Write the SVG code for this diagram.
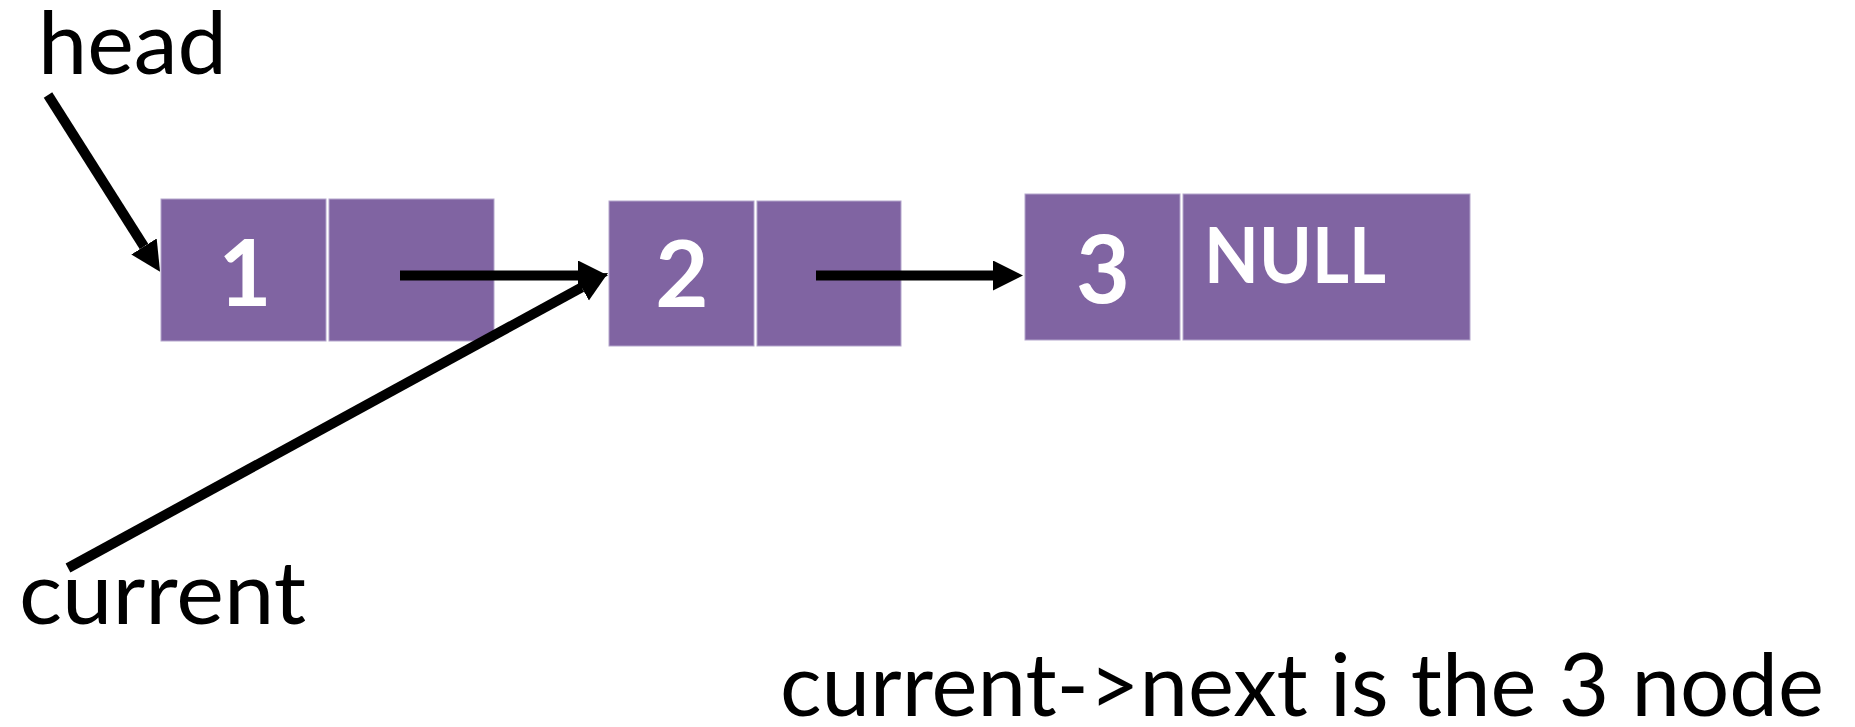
<svg xmlns="http://www.w3.org/2000/svg" width="1855" height="727" viewBox="0 0 1855 727">
<style>
.cell{fill:#8064A2;stroke:#B3A5CC;stroke-width:1}
.val{font-family:Lato,"Open Sans",sans-serif;font-weight:bold;fill:#FFFFFF;text-anchor:middle}
.lbl{font-family:Lato,"Open Sans",sans-serif;font-size:88px;fill:#000000}
.conn{stroke:#000000;stroke-width:10;fill:none;marker-end:url(#ah)}
</style>
<defs>
<marker id="ah" markerUnits="userSpaceOnUse" markerWidth="32" markerHeight="32" refX="0" refY="15" orient="auto">
<path d="M0,0 L30,15 L0,30 z" fill="#000000"/>
</marker>
</defs>
<rect width="1855" height="727" fill="#FFFFFF"/>
<g id="node1">
<rect class="cell" x="161" y="199" width="165" height="142"/>
<rect class="cell" x="329" y="199" width="165" height="142"/>
<text class="val" x="245" y="306" font-size="92">1</text>
</g>
<g id="node2">
<rect class="cell" x="609" y="201" width="145" height="145"/>
<rect class="cell" x="757" y="201" width="144" height="145"/>
<text class="val" x="682" y="307" font-size="92">2</text>
</g>
<g id="node3">
<rect class="cell" x="1025" y="194" width="155" height="146"/>
<rect class="cell" x="1183" y="194" width="287" height="146"/>
<text class="val" x="1103" y="303" font-size="93">3</text>
<text class="val" x="1295" y="283" font-size="77" textLength="182" lengthAdjust="spacingAndGlyphs">NULL</text>
</g>
<g id="label-head">
<text class="lbl" x="38" y="74" textLength="189" lengthAdjust="spacingAndGlyphs">head</text>
</g>
<g id="label-current">
<text class="lbl" x="19" y="624" textLength="287" lengthAdjust="spacingAndGlyphs">current</text>
</g>
<g id="caption">
<text class="lbl" x="780" y="716" textLength="1044" lengthAdjust="spacingAndGlyphs">current-&gt;next is the 3 node</text>
</g>
<g id="connectors">
<line class="conn" x1="48" y1="95" x2="144" y2="246.5"/>
<line class="conn" x1="400" y1="275.5" x2="578" y2="275.5"/>
<line class="conn" x1="816" y1="275.5" x2="993" y2="275.5"/>
<line class="conn" x1="68" y1="568" x2="581.7" y2="287.4"/>
</g>
</svg>
